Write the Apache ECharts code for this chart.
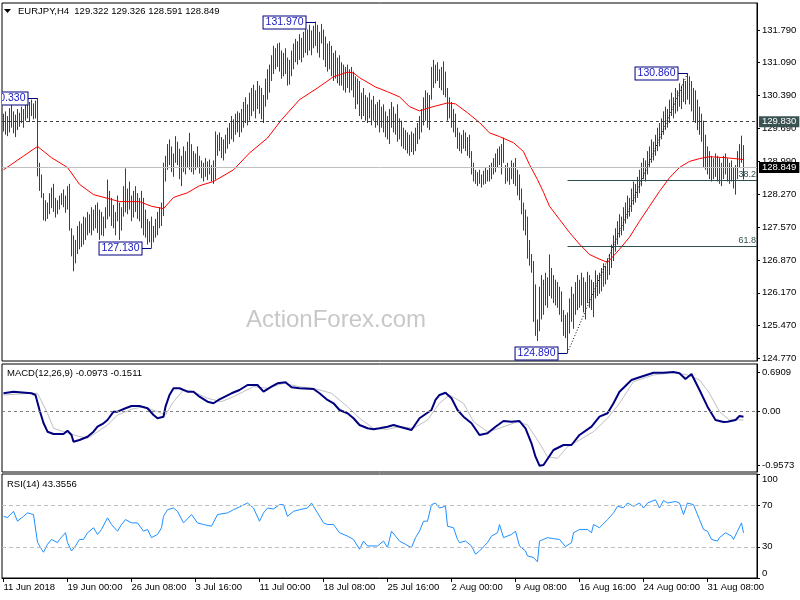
<!DOCTYPE html>
<html>
<head>
<meta charset="utf-8">
<title>EURJPY H4</title>
<script src="https://cdn.jsdelivr.net/npm/echarts@6.0.0/dist/echarts.min.js"></script>
<style>
html,body{margin:0;padding:0;background:#ffffff;}
#chart{width:800px;height:600px;}
</style>
</head>
<body>
<div id="chart"></div>
<script>
// ================= DATA =================
const symbolName = 'EURJPY,H4';
const lastBar = [129.322, 129.326, 128.591, 128.849]; // open high low close
const priceTicks = [131.79, 131.09, 130.39, 129.69, 128.99, 128.27, 127.57, 126.87, 126.17, 125.47, 124.77];
const timeLabels = ['11 Jun 2018', '19 Jun 00:00', '26 Jun 08:00', '3 Jul 16:00', '11 Jul 00:00', '18 Jul 08:00',
  '25 Jul 16:00', '2 Aug 00:00', '9 Aug 08:00', '16 Aug 16:00', '24 Aug 00:00', '31 Aug 08:00'];
const barsPerTimeLabel = 32;

const barHigh = [
  130.00,130.05,129.95,130.12,130.30,130.05,129.98,130.10,130.02,130.15,130.10,130.20,130.28,130.25,130.30,130.22,130.28,130.33,
  128.95,128.70,128.30,128.15,
  128.10,128.30,128.42,128.50,128.20,128.15,128.25,128.30,128.38,128.25,128.45,
  128.50,127.55,127.40,127.30,127.60,127.70,127.65,127.80,127.78,127.90,127.85,128.00,127.95,128.05,128.10,127.95,127.90,127.80,128.00,
  128.59,128.35,128.20,128.05,127.90,128.25,128.10,128.00,128.45,128.83,128.40,128.55,128.25,128.35,128.45,128.30,128.20,128.35,128.20,127.95,127.75,127.70,127.80,127.60,127.75,127.90,128.00,128.10,
  128.95,129.10,129.35,129.45,129.30,129.15,129.52,129.40,129.25,129.10,129.30,129.20,129.40,129.59,129.35,129.20,129.15,129.30,129.10,
  129.00,128.95,129.05,128.98,129.02,128.90,129.00,129.62,129.55,129.60,129.50,129.45,129.55,129.70,129.80,129.95,129.88,130.00,130.05,130.02,
  130.10,130.25,130.35,130.20,130.45,130.55,130.62,130.50,130.70,130.60,130.55,130.40,130.75,130.95,131.05,131.25,131.45,131.40,131.50,131.52,131.35,131.30,131.40,131.20,131.15,
  131.35,131.50,131.60,131.55,131.70,131.62,131.75,131.85,131.80,131.90,131.78,131.88,131.97,131.90,131.75,131.92,131.80,131.65,131.50,131.55,131.45,131.30,131.35,131.20,131.25,131.10,131.05,131.00,
  131.05,130.95,131.00,130.90,130.80,130.75,130.70,130.45,130.55,130.40,130.35,130.45,130.30,130.38,130.20,130.25,130.30,130.15,130.20,130.05,129.95,130.10,130.25,130.15,130.00,130.20,129.90,
  129.85,129.70,129.65,129.60,129.55,129.62,129.58,129.70,129.80,129.95,130.10,130.35,130.50,130.45,130.40,131.00,131.15,131.05,131.10,130.95,131.00,131.12,130.90,130.55,130.35,130.25,130.10,130.00,129.70,129.60,129.55,129.65,129.60,129.50,129.55,
  129.20,128.95,128.80,128.75,128.80,128.70,128.78,128.85,128.80,128.90,128.95,129.05,129.15,129.25,129.30,129.35,129.49,128.90,128.95,128.85,129.00,128.95,129.05,128.80,128.70,
  128.40,128.10,127.95,127.80,127.30,127.00,126.85,126.35,125.60,126.30,126.55,126.45,126.60,126.50,126.99,126.70,126.55,126.45,126.40,126.30,126.20,125.80,125.70,125.75,
  126.05,126.30,126.15,126.40,126.55,126.45,126.60,126.50,126.40,126.62,126.55,126.45,126.40,126.65,126.55,126.60,
  126.70,126.80,126.75,126.90,127.00,127.20,127.40,127.55,127.70,127.85,127.80,128.00,128.10,128.25,128.20,128.40,128.55,128.50,128.65,128.80,128.95,129.05,129.00,129.20,129.30,129.45,129.40,129.55,129.70,129.80,129.90,130.05,130.15,130.10,130.30,130.45,130.35,130.55,130.50,130.65,130.60,130.75,130.70,130.86,
  130.80,130.70,130.55,130.50,130.30,130.15,130.00,129.85,129.55,129.30,129.20,129.10,129.05,129.15,129.10,129.05,128.95,129.10,129.15,129.05,128.95,129.00,128.85,128.90,129.20,129.35,129.53,129.326
];
const barLow = [
  129.62,129.55,129.52,129.60,129.70,129.58,129.50,129.65,129.72,129.80,129.70,129.85,129.90,129.82,129.95,129.88,129.90,128.66,
  128.35,128.20,127.72,127.70,
  127.75,127.85,127.98,127.90,127.78,127.85,127.95,128.05,128.00,127.88,127.95,
  127.50,126.95,126.63,126.80,127.00,127.10,127.15,127.20,127.30,127.40,127.45,127.40,127.50,127.55,127.45,127.30,127.40,127.38,127.55,
  127.74,127.80,127.60,127.55,127.40,127.70,127.30,127.50,127.80,127.89,127.85,127.95,127.70,127.78,127.90,127.75,127.70,127.55,127.40,127.35,127.20,127.25,127.13,127.25,127.35,127.40,127.55,127.60,
  127.81,128.55,128.80,128.90,128.75,128.65,128.95,128.90,128.60,128.45,128.75,128.70,128.85,128.80,128.75,128.70,128.80,128.85,128.72,
  128.62,128.55,128.65,128.58,128.70,128.55,128.50,128.59,129.10,129.20,129.05,129.00,129.15,129.25,129.35,129.45,129.40,129.55,129.60,129.50,
  129.60,129.70,129.80,129.75,129.85,129.95,130.05,129.90,130.10,130.00,129.88,129.80,130.15,130.30,130.45,130.70,130.85,130.95,131.00,130.90,130.75,130.80,130.85,130.60,130.62,
  130.80,130.95,131.10,131.05,131.15,131.10,131.20,131.30,131.25,131.35,131.25,131.40,131.45,131.30,131.20,131.50,131.15,131.00,130.90,130.95,130.80,130.70,130.75,130.65,130.60,130.60,130.50,130.45,
  130.55,130.45,130.50,130.35,130.10,130.20,129.95,129.88,129.95,129.85,129.80,129.90,129.75,129.85,129.70,129.75,129.60,129.70,129.60,129.50,129.45,129.35,129.70,129.60,129.55,129.40,129.45,
  129.30,129.25,129.22,129.15,129.10,129.18,129.12,129.20,129.35,129.45,129.60,129.75,129.85,129.70,129.65,130.30,130.55,130.65,130.70,130.55,130.50,130.40,130.35,129.85,129.90,129.70,129.60,129.50,129.25,129.20,129.15,129.25,129.20,129.10,129.05,
  128.70,128.55,128.50,128.45,128.50,128.42,128.48,128.50,128.55,128.55,128.60,128.70,128.75,128.85,128.90,128.70,128.95,128.50,128.55,128.48,128.60,128.50,128.45,128.25,128.15,
  127.85,127.50,127.40,126.90,126.75,126.60,125.55,125.25,125.14,125.35,125.60,125.70,125.90,125.85,126.10,126.05,125.95,125.90,125.85,125.70,125.55,125.25,125.20,124.89,
  125.30,125.55,125.40,125.70,125.80,125.85,125.90,125.75,125.60,125.95,125.85,125.80,125.65,126.05,126.10,126.15,
  126.20,126.30,126.35,126.45,126.55,126.70,126.85,127.05,127.20,127.35,127.40,127.50,127.65,127.75,127.80,127.90,128.05,128.10,128.20,128.30,128.45,128.60,128.55,128.70,128.85,128.95,129.00,129.10,129.20,129.30,129.45,129.55,129.65,129.70,129.80,129.95,129.90,130.00,130.05,130.15,130.10,130.25,130.20,130.30,
  130.20,130.05,129.85,129.80,129.65,129.55,129.40,128.85,128.80,128.70,128.60,128.55,128.60,128.65,128.55,128.50,128.45,128.60,128.70,128.55,128.50,128.55,128.40,128.27,128.60,128.85,128.95,128.591
];

// moving average: [bar index, price]
const maLine = [[0,128.80],[17,129.30],[24,129.06],[32,128.85],[38,128.49],[45,128.27],[52,128.19],[58,128.12],[68,128.12],[74,128.02],[80,127.97],[85,128.21],[92,128.31],[98,128.46],[105,128.55],[115,128.80],[123,129.16],[132,129.48],[139,129.87],[148,130.30],[157,130.55],[165,130.79],[172,130.89],[175,130.87],[178,130.77],[186,130.57],[192,130.47],[198,130.36],[203,130.15],[208,130.06],[213,130.13],[222,130.23],[226,130.21],[232,130.02],[238,129.81],[243,129.59],[248,129.51],[255,129.38],[260,129.19],[263,128.91],[267,128.59],[270,128.32],[273,128.02],[278,127.74],[283,127.46],[288,127.21],[293,126.99],[298,126.89],[302,126.82],[308,127.10],[313,127.36],[318,127.70],[323,128.02],[328,128.34],[333,128.63],[338,128.85],[343,128.98],[348,129.04],[353,129.08],[361,129.06],[370,129.02]];

// swing high / low labels: [bar index, price]
const swingLabels = [[17,130.33],[74,127.13],[156,131.97],[282,124.89],[342,130.86]];
const resistanceLevel = 129.83;
const fibSwing = [282, 124.89, 342, 130.86]; // low index, low, high index, high
const fibLevels = [38.2, 61.8];

// MACD(12,26,9): [bar index, value]
const macdMain = [[0,0.317],[5,0.345],[14,0.317],[16,0.287],[18,0.023],[20,-0.206],[22,-0.359],[25,-0.399],[30,-0.399],[32,-0.341],[34,-0.417],[35,-0.535],[38,-0.505],[42,-0.447],[45,-0.359],[47,-0.271],[50,-0.211],[52,-0.153],[55,-0.007],[57,-0.007],[58,-0.035],[61,0.053],[64,0.093],[68,0.093],[72,0.053],[75,-0.065],[77,-0.123],[80,-0.095],[81,0.081],[83,0.287],[85,0.405],[88,0.405],[92,0.345],[95,0.345],[98,0.257],[102,0.169],[105,0.141],[108,0.211],[114,0.317],[118,0.375],[122,0.463],[127,0.463],[130,0.345],[134,0.433],[137,0.493],[141,0.510],[144,0.422],[148,0.405],[155,0.392],[158,0.317],[162,0.199],[165,0.141],[168,0.023],[172,-0.035],[175,-0.123],[178,-0.241],[182,-0.299],[185,-0.317],[188,-0.299],[192,-0.271],[195,-0.241],[198,-0.271],[204,-0.329],[208,-0.123],[214,0.023],[216,0.199],[218,0.287],[221,0.327],[224,0.229],[227,0.023],[230,-0.095],[234,-0.211],[238,-0.417],[242,-0.387],[246,-0.271],[250,-0.171],[254,-0.183],[258,-0.171],[261,-0.299],[264,-0.563],[266,-0.799],[268,-0.957],[270,-0.945],[275,-0.681],[280,-0.593],[284,-0.593],[288,-0.417],[294,-0.271],[298,-0.095],[302,-0.035],[305,0.141],[308,0.345],[314,0.551],[318,0.598],[325,0.679],[330,0.679],[335,0.691],[338,0.668],[341,0.568],[344,0.656],[345,0.639],[348,0.375],[352,0.081],[356,-0.153],[360,-0.188],[362,-0.183],[366,-0.153],[368,-0.083],[370,-0.0973]];
const macdSignal = [[0,0.287],[14,0.317],[17,0.317],[22,-0.035],[25,-0.299],[30,-0.359],[37,-0.434],[42,-0.475],[47,-0.359],[52,-0.241],[57,-0.065],[64,0.035],[70,0.081],[77,-0.007],[81,-0.065],[85,0.169],[90,0.375],[95,0.345],[102,0.229],[109,0.169],[115,0.257],[125,0.433],[132,0.405],[140,0.493],[148,0.433],[155,0.405],[164,0.317],[172,0.081],[178,-0.123],[185,-0.299],[192,-0.317],[198,-0.271],[205,-0.299],[212,-0.153],[218,0.141],[223,0.287],[230,0.141],[235,-0.183],[242,-0.359],[248,-0.299],[257,-0.183],[262,-0.241],[267,-0.505],[272,-0.799],[277,-0.827],[282,-0.623],[288,-0.505],[295,-0.359],[302,-0.123],[308,0.141],[315,0.521],[325,0.639],[335,0.68],[342,0.639],[348,0.551],[353,0.317],[358,-0.007],[363,-0.153],[370,-0.1511]];
const macdLast = [-0.0973, -0.1511];
const macdTicks = [0.6909, 0, -0.9573];

// RSI(14): [bar index, value]
const rsiLine = [[0,59.3],[2,58.1],[5,64.1],[7,54.6],[10,59.3],[12,62.6],[15,61.0],[16,59.3],[17,34.3],[19,27.6],[20,24.8],[22,32.4],[24,37.1],[27,34.0],[28,37.1],[31,43.5],[32,34.0],[34,26.0],[36,30.8],[38,37.1],[40,37.1],[42,43.5],[45,48.3],[47,41.9],[49,46.7],[52,57.8],[54,51.4],[57,45.0],[59,51.4],[61,56.2],[64,53.0],[67,53.0],[70,45.0],[72,46.7],[74,38.8],[77,41.9],[79,48.3],[80,59.3],[82,65.7],[85,67.3],[87,64.1],[90,53.0],[94,61.0],[97,53.0],[100,51.4],[104,49.8],[107,61.0],[112,62.6],[115,65.7],[118,68.3],[122,72.1],[125,67.3],[128,54.6],[130,62.6],[132,67.3],[135,66.4],[138,70.5],[140,70.5],[142,59.3],[145,64.1],[148,65.7],[152,67.3],[154,72.1],[157,62.6],[160,53.0],[162,51.4],[165,51.4],[168,43.5],[172,40.3],[175,37.1],[178,27.6],[180,35.5],[182,30.8],[187,30.8],[190,35.5],[192,29.2],[194,45.0],[196,40.3],[198,35.5],[201,32.4],[204,29.2],[206,38.8],[208,45.0],[210,54.6],[212,54.6],[214,70.5],[216,72.1],[218,67.3],[221,68.9],[222,49.8],[225,48.3],[227,37.1],[228,34.0],[231,35.5],[234,30.8],[236,22.9],[238,26.0],[242,34.0],[244,40.3],[247,43.5],[248,51.4],[250,38.8],[254,41.9],[256,45.0],[258,30.8],[261,26.0],[262,21.2],[265,19.7],[267,15.5],[268,35.5],[272,38.8],[275,37.8],[278,37.1],[281,30.2],[284,34.0],[285,43.5],[288,46.7],[292,46.7],[294,43.5],[295,51.4],[298,48.3],[302,56.2],[305,62.6],[307,68.9],[310,67.6],[312,72.1],[315,68.9],[318,72.1],[320,67.3],[322,72.1],[326,75.2],[328,67.3],[330,74.6],[332,72.1],[336,73.6],[338,72.1],[340,61.0],[342,72.1],[345,70.5],[348,56.2],[350,46.7],[352,45.0],[354,37.1],[357,35.5],[358,38.8],[361,43.5],[364,40.3],[365,37.1],[367,45.0],[369,53.0],[370,43.3556]];
const rsiLast = 43.3556;
const rsiTicks = [100, 70, 30, 0];
const rsiLevels = [70, 30];

// ================= CHART =================
const FONT = "'Liberation Sans', Arial, sans-serif";
const FS = 9.5;
const BAR_COLOR = '#1f4a5c';
const X_MIN = -0.75, X_MAX = 376.75;
const GL = 2, GR = 43;

const timeTickIdx = timeLabels.map((_, k) => k * barsPerTimeLabel);
const fibPrices = fibLevels.map(p => fibSwing[3] - (fibSwing[3] - fibSwing[1]) * p / 100);

function hiddenX(gi) {
  return { type: 'value', gridIndex: gi, min: X_MIN, max: X_MAX, show: false, splitLine: { show: false },
    axisLine: { onZero: false } };
}
function rightY(gi, min, max, ticks, fmt, labelExtra) {
  return {
    type: 'value', gridIndex: gi, position: 'right', min: min, max: max,
    splitLine: { show: false },
    axisLine: { show: true, onZero: false, lineStyle: { color: '#000', width: 1 } },
    axisTick: { show: true, customValues: ticks, length: 3, lineStyle: { color: '#000' } },
    axisLabel: Object.assign({ customValues: ticks, formatter: fmt, color: '#000', fontSize: FS, fontFamily: FONT, margin: 5 }, labelExtra || {})
  };
}

const chart = echarts.init(document.getElementById('chart'), null, { renderer: 'canvas' });

const option = {
  animation: false,
  backgroundColor: '#ffffff',
  grid: [
    { left: GL, right: GR, top: 3, height: 358, show: true, borderColor: '#000', borderWidth: 1, backgroundColor: 'transparent' },
    { left: GL, right: GR, top: 364, height: 108, show: true, borderColor: '#000', borderWidth: 1, backgroundColor: 'transparent' },
    { left: GL, right: GR, top: 474, height: 104, show: true, borderColor: '#000', borderWidth: 1, backgroundColor: 'transparent' }
  ],
  xAxis: [
    hiddenX(0), hiddenX(1),
    {
      type: 'value', gridIndex: 2, min: X_MIN, max: X_MAX, position: 'bottom',
      splitLine: { show: false },
      axisLine: { show: true, onZero: false, lineStyle: { color: '#000' } },
      axisTick: { show: true, customValues: timeTickIdx, length: 4, lineStyle: { color: '#000' } },
      axisLabel: {
        customValues: timeTickIdx,
        formatter: v => timeLabels[Math.round(v / barsPerTimeLabel)] || '',
        align: 'left', color: '#000', fontSize: FS, fontFamily: FONT, margin: 4
      }
    }
  ],
  yAxis: [
    rightY(0, 124.712, 132.367, priceTicks, v => v.toFixed(3)),
    rightY(1, -1.068, 0.832, macdTicks, v => v === 0 ? '0.00' : v.toFixed(4)),
    rightY(2, 0, 100, rsiTicks, v => String(v), { verticalAlignMaxLabel: 'bottom', verticalAlignMinLabel: 'top' })
  ],
  graphic: [
    { type: 'polygon', shape: { points: [[4, 9], [11, 9], [7.5, 13]] }, style: { fill: '#000' } },
    { type: 'text', x: 18, y: 11, style: { text: symbolName + '  ' + lastBar.map(v => v.toFixed(3)).join(' '), fill: '#000', fontSize: FS, fontFamily: FONT, verticalAlign: 'middle' } },
    { type: 'text', x: 7, y: 373, style: { text: 'MACD(12,26,9) ' + macdLast[0].toFixed(4) + ' ' + macdLast[1].toFixed(4), fill: '#000', fontSize: FS, fontFamily: FONT, verticalAlign: 'middle' } },
    { type: 'text', x: 7, y: 484, style: { text: 'RSI(14) ' + rsiLast.toFixed(4), fill: '#000', fontSize: FS, fontFamily: FONT, verticalAlign: 'middle' } },
    { type: 'text', x: 336, y: 320, z: -10, style: { text: 'ActionForex.com', fill: '#c8c8c8', fontSize: 24, fontFamily: FONT, align: 'center', verticalAlign: 'middle' } }
  ],
  series: [
    {
      type: 'custom', name: 'bars', xAxisIndex: 0, yAxisIndex: 0, clip: true, z: 2,
      data: barHigh.map((h, i) => [i, h, barLow[i]]),
      encode: { x: 0, y: [1, 2] },
      renderItem: function (params, api) {
        const i = api.value(0);
        const top = api.coord([i, api.value(1)]);
        const bot = api.coord([i, api.value(2)]);
        const x = Math.floor(top[0]) + 0.5;
        return { type: 'line', shape: { x1: x, y1: top[1], x2: x, y2: bot[1] }, style: { stroke: BAR_COLOR, lineWidth: 1 } };
      }
    },
    {
      type: 'line', name: 'MA', xAxisIndex: 0, yAxisIndex: 0, data: maLine, showSymbol: false, z: 3,
      lineStyle: { color: '#ff0000', width: 1 },
      markLine: {
        silent: true, symbol: ['none', 'none'], animation: false,
        data: [
          { yAxis: resistanceLevel, lineStyle: { color: '#404040', type: [3, 3], width: 1 },
            label: { show: true, position: 'end', distance: 2, formatter: resistanceLevel.toFixed(3), color: '#ffffff', backgroundColor: '#3b5252', padding: [1, 3, 0, 3], fontSize: FS, fontFamily: FONT } },
          { yAxis: lastBar[3], lineStyle: { color: '#c0c0c0', type: 'solid', width: 1 },
            label: { show: true, position: 'end', distance: 2, formatter: lastBar[3].toFixed(3), color: '#ffffff', backgroundColor: '#000000', padding: [1, 3, 0, 3], fontSize: FS, fontFamily: FONT } },
          [ { coord: [fibSwing[0], fibPrices[0]], lineStyle: { color: '#2f4f4f', type: 'solid', width: 1 },
              label: { show: true, position: 'insideEndTop', distance: 1, formatter: fibLevels[0].toFixed(1), color: '#2f4f4f', fontSize: 9, fontFamily: FONT } },
            { coord: [X_MAX, fibPrices[0]] } ],
          [ { coord: [fibSwing[0], fibPrices[1]], lineStyle: { color: '#2f4f4f', type: 'solid', width: 1 },
              label: { show: true, position: 'insideEndTop', distance: 1, formatter: fibLevels[1].toFixed(1), color: '#2f4f4f', fontSize: 9, fontFamily: FONT } },
            { coord: [X_MAX, fibPrices[1]] } ],
          [ { coord: [fibSwing[0], fibSwing[1]], lineStyle: { color: '#000000', type: [1, 2], width: 1 }, label: { show: false } },
            { coord: [fibSwing[2], fibSwing[3]] } ]
        ]
      }
    },
    {
      type: 'custom', name: 'swings', xAxisIndex: 0, yAxisIndex: 0, clip: true, z: 5,
      data: swingLabels,
      encode: { x: 0, y: 1 },
      renderItem: function (params, api) {
        const v = api.value(1);
        const p = api.coord([api.value(0), v]);
        const y = Math.round(p[1]) + 0.5;
        const bx = Math.floor(p[0]) + 0.5;
        const xr = bx - 10;
        return {
          type: 'group', children: [
            { type: 'line', shape: { x1: xr, y1: y, x2: bx, y2: y }, style: { stroke: '#000080', lineWidth: 1 } },
            { type: 'text', x: xr, y: y, style: { text: v.toFixed(3), align: 'right', verticalAlign: 'middle', fill: '#1818c0',
              backgroundColor: '#ffffff', borderColor: '#000080', borderWidth: 1, padding: [1, 2, 0, 2], fontSize: 10.5, fontFamily: FONT } }
          ]
        };
      }
    },
    {
      type: 'line', name: 'MACD signal', xAxisIndex: 1, yAxisIndex: 1, data: macdSignal, showSymbol: false, z: 2,
      lineStyle: { color: '#c0c0c0', width: 1 }
    },
    {
      type: 'line', name: 'MACD', xAxisIndex: 1, yAxisIndex: 1, data: macdMain, showSymbol: false, z: 3,
      lineStyle: { color: '#000080', width: 2 },
      markLine: { silent: true, symbol: ['none', 'none'], label: { show: false }, animation: false,
        lineStyle: { color: '#808080', type: [3, 3], width: 1 }, data: [{ yAxis: 0 }] }
    },
    {
      type: 'line', name: 'RSI', xAxisIndex: 2, yAxisIndex: 2, data: rsiLine, showSymbol: false, z: 3,
      lineStyle: { color: '#1e90ff', width: 1 },
      markLine: { silent: true, symbol: ['none', 'none'], label: { show: false }, animation: false,
        lineStyle: { color: '#c0c0c0', type: [4, 3], width: 1 }, data: rsiLevels.map(l => ({ yAxis: l })) }
    }
  ]
};
chart.setOption(option);
</script>
</body>
</html>
